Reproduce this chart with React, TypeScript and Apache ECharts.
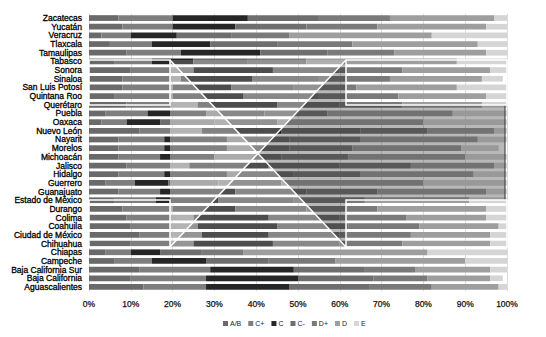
import React, { useEffect, useRef } from "react";
import * as echarts from "echarts";

// States listed bottom-to-top (category axis starts at the bottom)
const states = [
  "Aguascalientes", "Baja California", "Baja California Sur", "Campeche", "Chiapas",
  "Chihuahua", "Ciudad de México", "Coahuila", "Colima", "Durango", "Estado de México",
  "Guanajuato", "Guerrero", "Hidalgo", "Jalisco", "Michoacán", "Morelos", "Nayarit",
  "Nuevo León", "Oaxaca", "Puebla", "Querétaro", "Quintana Roo", "San Luis Potosí",
  "Sinaloa", "Sonora", "Tabasco", "Tamaulipas", "Tlaxcala", "Veracruz", "Yucatán", "Zacatecas",
];

const levels = ["A/B", "C+", "C", "C-", "D+", "D", "E"];

// Share of households (%) per socioeconomic level, same order as states
const shareAB = [13, 10, 12, 6, 4, 10, 12, 10, 9, 8, 6, 7, 4, 7, 9, 7, 7, 7, 12, 3, 4, 9, 6, 8, 8, 10, 6, 9, 5, 3, 8, 7];
const shareCPlus = [15, 18, 17, 9, 6, 15, 15, 16, 16, 12, 10, 10, 7, 11, 15, 10, 11, 11, 15, 6, 10, 17, 14, 12, 14, 15, 9, 13, 10, 7, 12, 13];
const shareC = [20, 22, 20, 13, 7, 19, 16, 19, 18, 15, 15, 18, 8, 15, 19, 13, 15, 15, 19, 8, 14, 19, 17, 14, 17, 19, 10, 19, 14, 11, 15, 18];
const shareCMinus = [19, 18, 17, 15, 10, 16, 17, 17, 17, 17, 18, 17, 12, 16, 17, 16, 15, 15, 19, 13, 14, 15, 18, 15, 16, 16, 13, 16, 16, 13, 17, 17];
const shareDPlus = [15, 13, 12, 16, 10, 15, 17, 17, 16, 17, 17, 17, 15, 16, 17, 16, 15, 17, 16, 15, 15, 15, 19, 15, 17, 15, 14, 16, 18, 14, 17, 17];
const shareD = [16, 15, 18, 31, 44, 21, 19, 19, 19, 26, 25, 26, 34, 27, 20, 28, 26, 28, 16, 35, 30, 19, 21, 24, 22, 21, 36, 22, 30, 34, 26, 25];
const shareE = [2, 3, 4, 10, 19, 4, 4, 2, 5, 5, 9, 5, 20, 8, 3, 10, 9, 7, 3, 20, 13, 6, 5, 12, 5, 4, 12, 5, 7, 18, 5, 3];

const xTicks = [0, 10, 20, 30, 40, 50, 60, 70, 80, 90, 100];

const levelColors = ["#6a6a6a", "#7e7e7e", "#262626", "#6e6e6e", "#7a7a7a", "#9e9e9e", "#d5d5d5"];

const shares = [shareAB, shareCPlus, shareC, shareCMinus, shareDPlus, shareD, shareE];

const FONT = "'Liberation Sans', Arial, sans-serif";

export default function App() {
  const ref = useRef<HTMLDivElement>(null);

  useEffect(() => {
    if (!ref.current) return;
    const chart = echarts.init(ref.current, null, { renderer: "svg" });

    const series = levels.map((name, i) => ({
      name,
      type: "bar" as const,
      stack: "total",
      barWidth: "66%",
      data: shares[i],
      itemStyle: { color: levelColors[i] },
      emphasis: { disabled: true },
    }));

    // Lens-style overlay: crossed guide lines, shaded wedges and frame boxes
    const white = "#ffffff";
    const graphic = [
      {
        type: "polygon",
        z: 100,
        shape: { points: [[170, 60], [258, 153.5], [170, 247]] },
        style: { fill: "rgba(255,255,255,0.42)" },
        silent: true,
      },
      {
        type: "polygon",
        z: 100,
        shape: { points: [[170, 60], [346, 60], [258, 153.5]] },
        style: { fill: "rgba(255,255,255,0.18)" },
        silent: true,
      },
      {
        type: "polygon",
        z: 100,
        shape: { points: [[170, 247], [346, 247], [258, 153.5]] },
        style: { fill: "rgba(255,255,255,0.18)" },
        silent: true,
      },
      {
        type: "polygon",
        z: 100,
        shape: {
          points: [[346, 60], [258, 153.5], [346, 247], [346, 200], [505, 200], [505, 105], [346, 105]],
        },
        style: { fill: "rgba(0,0,0,0.28)" },
        silent: true,
      },
      {
        type: "line",
        z: 101,
        shape: { x1: 505, y1: 105, x2: 505, y2: 200 },
        style: { stroke: "#333", lineWidth: 1 },
        silent: true,
      },
      ...[
        [89, 60, 81, 45],
        [346, 60, 161, 45],
        [89, 200, 81, 47],
        [346, 200, 161, 47],
      ].map(([x, y, w, h]) => ({
        type: "rect",
        z: 102,
        shape: { x, y, width: w, height: h },
        style: { fill: "none", stroke: white, lineWidth: 1.5 },
        silent: true,
      })),
      {
        type: "line",
        z: 103,
        shape: { x1: 170, y1: 60, x2: 346, y2: 247 },
        style: { stroke: white, lineWidth: 1.4 },
        silent: true,
      },
      {
        type: "line",
        z: 103,
        shape: { x1: 346, y1: 60, x2: 170, y2: 247 },
        style: { stroke: white, lineWidth: 1.4 },
        silent: true,
      },
    ];

    chart.setOption({
      animation: false,
      grid: { left: 89, right: 39, top: 13.7, bottom: 45.7, containLabel: false },
      xAxis: {
        type: "value",
        min: xTicks[0],
        max: xTicks[xTicks.length - 1],
        interval: 10,
        axisLine: { show: false },
        axisTick: { show: false },
        splitLine: { show: true, lineStyle: { color: "#dcdcdc", width: 1 } },
        axisLabel: {
          formatter: (v: number) => `${v}%`,
          fontFamily: FONT,
          fontSize: 8.5,
          color: "#111",
          margin: 8,
          textBorderColor: "#111",
          textBorderWidth: 0.25,
        },
      },
      yAxis: {
        type: "category",
        data: states,
        axisLine: { show: false },
        axisTick: { show: false },
        axisLabel: {
          fontFamily: FONT,
          fontSize: 8.5,
          color: "#000",
          margin: 7,
          interval: 0,
          textBorderColor: "#000",
          textBorderWidth: 0.3,
        },
      },
      legend: {
        data: levels,
        left: 218,
        top: 315,
        itemWidth: 5,
        itemHeight: 5,
        itemGap: 7,
        icon: "rect",
        textStyle: { fontFamily: FONT, fontSize: 7, color: "#222", padding: [0, 0, 0, -3] },
        selectedMode: false,
      },
      series,
      graphic,
    });

    return () => chart.dispose();
  }, []);

  return (
    <div
      ref={ref}
      style={{ position: "fixed", left: 0, top: 0, width: 546, height: 337, background: "#fff" }}
    />
  );
}
